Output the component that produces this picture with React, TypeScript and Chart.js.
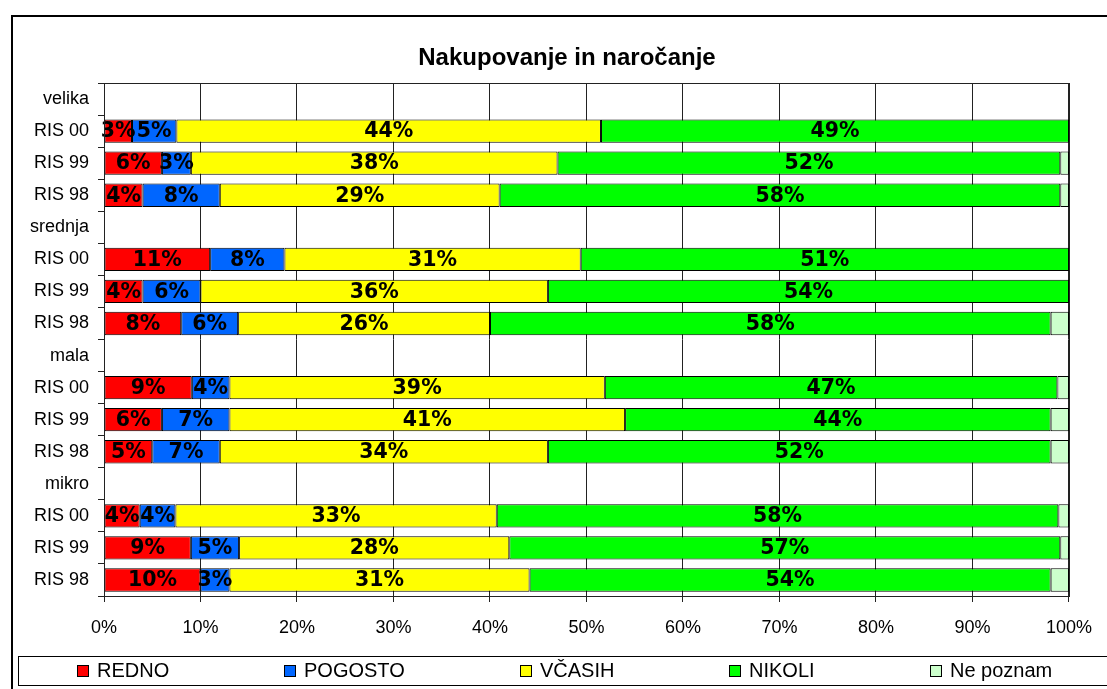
import React, { useEffect, useRef } from 'react';
import { Chart, registerables } from 'chart.js';

Chart.register(...registerables);

const chartTitle = 'Nakupovanje in naročanje';

const categories = [
  'velika', 'RIS 00', 'RIS 99', 'RIS 98',
  'srednja', 'RIS 00', 'RIS 99', 'RIS 98',
  'mala', 'RIS 00', 'RIS 99', 'RIS 98',
  'mikro', 'RIS 00', 'RIS 99', 'RIS 98',
];

const seriesNames = ['REDNO', 'POGOSTO', 'VČASIH', 'NIKOLI', 'Ne poznam'];
const seriesColors = ['#FF0000', '#0066FF', '#FFFF00', '#00FF00', '#CCFFCC'];

const redno = [null, 2.9, 6.0, 4.0, null, 11.0, 4.0, 8.0, null, 9.1, 6.0, 5.0, null, 3.7, 9.0, 10.0];
const pogosto = [null, 4.6, 3.0, 8.0, null, 7.7, 6.0, 5.9, null, 3.9, 7.0, 7.0, null, 3.7, 5.0, 3.0];
const vcasih = [null, 44.0, 38.0, 29.0, null, 30.7, 36.0, 26.1, null, 38.9, 41.0, 34.0, null, 33.3, 28.0, 31.1];
const nikoli = [null, 48.5, 52.1, 58.1, null, 50.6, 54.0, 58.1, null, 46.9, 44.1, 52.1, null, 58.2, 57.1, 54.0];
const nePoznam = [null, 0, 0.9, 0.9, null, 0, 0, 1.9, null, 1.2, 1.9, 1.9, null, 1.1, 0.9, 1.9];

const seriesValues = [redno, pogosto, vcasih, nikoli, nePoznam];
const labeledSeriesCount = 4;

const xMin = 0;
const xMax = 100;
const xStep = 10;

const FONT = '"Liberation Sans", Arial, sans-serif';
const LABEL_FONT = 'bold 20.5px "DejaVu Sans", Verdana, sans-serif';

const framePlugin = {
  id: 'excelFrame',
  afterDraw(chart: any) {
    const ctx = chart.ctx;
    const W = chart.width;
    const H = chart.height;
    const ca = chart.chartArea;
    ctx.save();
    // outer border (left + top)
    ctx.strokeStyle = '#000';
    ctx.lineWidth = 2;
    ctx.beginPath();
    ctx.moveTo(12, H + 2);
    ctx.lineTo(12, 16);
    ctx.lineTo(W + 2, 16);
    ctx.stroke();

    // plot area border
    ctx.lineWidth = 1;
    ctx.strokeStyle = '#222';
    ctx.strokeRect(Math.round(ca.left) + 0.5, Math.round(ca.top) + 0.5, Math.round(ca.right - ca.left), Math.round(ca.bottom - ca.top));

    // title
    ctx.fillStyle = '#000';
    ctx.font = 'bold 24px ' + FONT;
    ctx.textAlign = 'center';
    ctx.textBaseline = 'middle';
    ctx.fillText(chartTitle, 567, 58);

    // legend
    const lgLeft = 18;
    const lgRight = 1111;
    const lgTop = H - 33;
    const lgBottom = H - 4;
    ctx.lineWidth = 1;
    ctx.strokeStyle = '#000';
    ctx.strokeRect(lgLeft + 0.5, lgTop + 0.5, lgRight - lgLeft, lgBottom - lgTop);
    ctx.font = '20px ' + FONT;
    const box = 12;
    const gap = 8;
    const pad = 115;
    const datasets = chart.data.datasets;
    const widths = datasets.map((d: any) => box + gap + ctx.measureText(d.label).width);
    const total = widths.reduce((a: number, b: number) => a + b, 0) + pad * (datasets.length - 1);
    let x = (lgLeft + lgRight) / 2 - total / 2;
    const cy = (lgTop + lgBottom) / 2 + 0.5;
    ctx.textAlign = 'left';
    ctx.textBaseline = 'middle';
    datasets.forEach((d: any, i: number) => {
      const bx = Math.round(x);
      const by = Math.round(cy - box / 2);
      ctx.fillStyle = d.backgroundColor;
      ctx.fillRect(bx, by, box, box);
      ctx.strokeStyle = '#000';
      ctx.strokeRect(bx + 0.5, by + 0.5, box - 1, box - 1);
      ctx.fillStyle = '#000';
      ctx.fillText(d.label, bx + box + gap, cy);
      x += widths[i] + pad;
    });
    ctx.restore();
  },
};

const valueLabelPlugin = {
  id: 'valueLabels',
  afterDatasetsDraw(chart: any) {
    const ctx = chart.ctx;
    ctx.save();
    ctx.font = LABEL_FONT;
    ctx.fillStyle = '#000';
    ctx.textAlign = 'center';
    ctx.textBaseline = 'middle';
    chart.data.datasets.forEach((ds: any, di: number) => {
      if (di >= labeledSeriesCount) return;
      const meta = chart.getDatasetMeta(di);
      meta.data.forEach((el: any, i: number) => {
        const v = ds.data[i];
        if (v === null || v === undefined || v <= 0) return;
        const p = el.getCenterPoint();
        ctx.fillText(Math.round(v) + '%', p.x, p.y + 1);
      });
    });
    ctx.restore();
  },
};

export default function App() {
  const canvasRef = useRef<HTMLCanvasElement | null>(null);

  useEffect(() => {
    const canvas = canvasRef.current;
    if (!canvas) return;
    const chart = new Chart(canvas, {
      type: 'bar',
      data: {
        labels: categories,
        datasets: seriesNames.map((name, i) => ({
          label: name,
          data: seriesValues[i],
          backgroundColor: seriesColors[i],
          borderColor: '#000',
          borderWidth: 1,
          borderSkipped: false,
          barPercentage: 0.73,
          categoryPercentage: 1,
        })),
      },
      options: {
        indexAxis: 'y',
        animation: false,
        responsive: false,
        maintainAspectRatio: false,
        devicePixelRatio: 1,
        layout: { padding: { top: 83, right: 35, bottom: 38, left: 0 } },
        plugins: {
          legend: { display: false },
          title: { display: false },
          tooltip: { enabled: false },
        },
        scales: {
          x: {
            type: 'linear',
            stacked: true,
            min: xMin,
            max: xMax,
            ticks: {
              stepSize: xStep,
              color: '#000',
              font: { family: FONT, size: 18 },
              padding: 15,
              callback: (v: any) => v + '%',
            },
            grid: { color: '#222', lineWidth: 1, tickLength: 6, drawTicks: true },
            border: { display: true, color: '#222', width: 1 },
            afterFit: (scale: any) => { scale.height = 55; },
          },
          y: {
            type: 'category',
            stacked: true,
            ticks: {
              color: '#000',
              font: { family: FONT, size: 18 },
              padding: 9,
              autoSkip: false,
            },
            grid: { display: true, drawOnChartArea: false, drawTicks: true, tickLength: 6, color: '#222', offset: true },
            border: { display: true, color: '#222', width: 1 },
            afterFit: (scale: any) => { scale.width = 104; },
          },
        },
      },
      plugins: [valueLabelPlugin, framePlugin],
    });
    return () => chart.destroy();
  }, []);

  return (
    <div style={{ position: 'absolute', left: 0, top: 0, width: 1107, height: 689, background: '#fff', overflow: 'hidden' }}>
      <canvas ref={canvasRef} width={1107} height={689} style={{ display: 'block' }} />
    </div>
  );
}
